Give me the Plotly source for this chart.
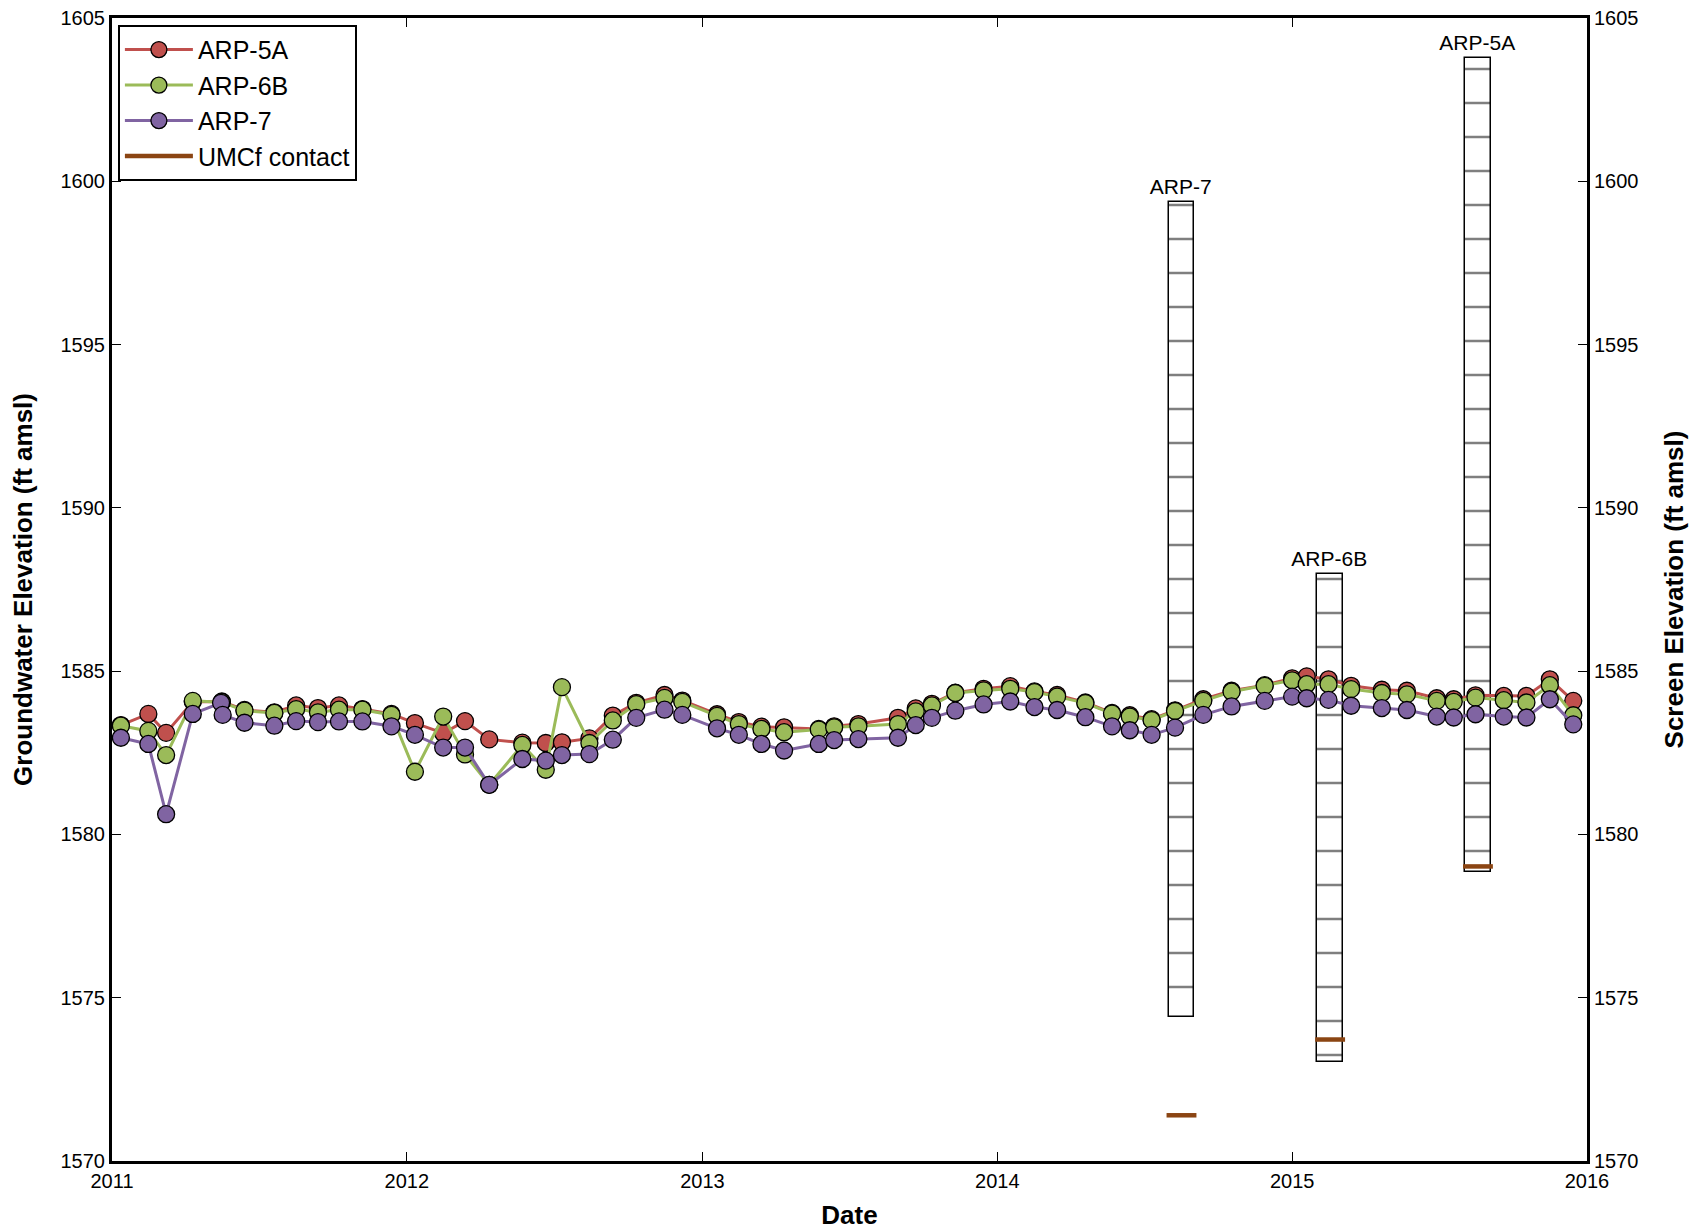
import plotly.graph_objects as go
import pandas as pd

# ---------------- data ----------------
dates = ["2011-01-12", "2011-02-15", "2011-03-09", "2011-04-11", "2011-05-17", "2011-06-14",
         "2011-07-21", "2011-08-17", "2011-09-13", "2011-10-09", "2011-11-07", "2011-12-13",
         "2012-01-11", "2012-02-15", "2012-03-13", "2012-04-12", "2012-05-23", "2012-06-21",
         "2012-07-11", "2012-08-14", "2012-09-12", "2012-10-11", "2012-11-15", "2012-12-07",
         "2013-01-19", "2013-02-15", "2013-03-15", "2013-04-12", "2013-05-25", "2013-06-13",
         "2013-07-13", "2013-08-31", "2013-09-22", "2013-10-12", "2013-11-10", "2013-12-15",
         "2014-01-17", "2014-02-16", "2014-03-16", "2014-04-20", "2014-05-23", "2014-06-14",
         "2014-07-11", "2014-08-09", "2014-09-13", "2014-10-18", "2014-11-28", "2015-01-01",
         "2015-01-19", "2015-02-15", "2015-03-15", "2015-04-22", "2015-05-23", "2015-06-29",
         "2015-07-20", "2015-08-16", "2015-09-20", "2015-10-18", "2015-11-16", "2015-12-15"]

arp5a = [1583.35, 1583.69, 1583.11, 1584.06, 1584.07, 1583.81, 1583.74, 1583.95, 1583.87, 1583.95,
         1583.84, 1583.69, 1583.41, 1583.10, 1583.47, 1582.91, 1582.81, 1582.80, 1582.82, 1582.94,
         1583.64, 1584.03, 1584.27, 1584.10, 1583.68, 1583.44, 1583.30, 1583.28, 1583.23, 1583.31,
         1583.38, 1583.57, 1583.86, 1584.00, 1584.34, 1584.46, 1584.54, 1584.38, 1584.27, 1584.04,
         1583.72, 1583.65, 1583.53, 1583.80, 1584.14, 1584.40, 1584.57, 1584.78, 1584.84, 1584.75,
         1584.55, 1584.43, 1584.40, 1584.17, 1584.14, 1584.26, 1584.24, 1584.24, 1584.75, 1584.09]

arp6b = [1583.33, 1583.17, 1582.43, 1584.09, 1584.05, 1583.79, 1583.72, 1583.84, 1583.74, 1583.82,
         1583.82, 1583.66, 1581.92, 1583.61, 1582.45, 1581.52, 1582.74, 1581.98, 1584.51, 1582.80,
         1583.49, 1583.99, 1584.18, 1584.06, 1583.63, 1583.38, 1583.23, 1583.13, 1583.21, 1583.28,
         1583.31, 1583.38, 1583.77, 1583.95, 1584.33, 1584.41, 1584.46, 1584.36, 1584.22, 1584.02,
         1583.70, 1583.61, 1583.50, 1583.78, 1584.09, 1584.37, 1584.55, 1584.72, 1584.60, 1584.60,
         1584.45, 1584.33, 1584.29, 1584.09, 1584.06, 1584.19, 1584.11, 1584.04, 1584.57, 1583.65]

# ARP-7 has an extra reading in May 2011
dates_arp7 = dates[:4] + ["2011-05-16", "2011-05-18"] + dates[5:]
arp7 = [1582.96, 1582.77, 1580.62, 1583.69, 1584.03, 1583.66, 1583.42, 1583.33, 1583.47, 1583.44,
        1583.46, 1583.46, 1583.31, 1583.05, 1582.66, 1582.66, 1581.52, 1582.31, 1582.26, 1582.43,
        1582.46, 1582.90, 1583.57, 1583.82, 1583.66, 1583.25, 1583.05, 1582.77, 1582.57, 1582.77,
        1582.89, 1582.92, 1582.96, 1583.35, 1583.57, 1583.79, 1583.98, 1584.07, 1583.90, 1583.81,
        1583.59, 1583.31, 1583.19, 1583.05, 1583.27, 1583.66, 1583.92, 1584.09, 1584.22, 1584.17,
        1584.12, 1583.94, 1583.87, 1583.81, 1583.61, 1583.58, 1583.68, 1583.61, 1583.58, 1584.14,
        1583.37]

# well screens
screen_wells = ["ARP-7", "ARP-6B", "ARP-5A"]
screen_dates = ["2014-08-17", "2015-02-17", "2015-08-19"]
screen_top = [1599.37, 1587.98, 1603.78]
screen_bottom = [1574.40, 1573.03, 1578.86]
umcf_contact = [1571.40, 1573.72, 1579.02]

y_ticks = [1570, 1575, 1580, 1585, 1590, 1595, 1600, 1605]

# ---------------- styling ----------------
FONT = "Arial, Liberation Sans, sans-serif"
C_RED, C_GREEN, C_PURPLE, C_BROWN = "#C0504D", "#9BBB59", "#8064A2", "#8B4513"
BAR_DAYS = 31.5
CONTACT_HALF_DAYS = 18.5
PAGE_MARGIN = 8  # default body margin of the html page

fig = go.Figure()

# screens (bars with horizontal hatch)
sd = pd.to_datetime(screen_dates)
fig.add_trace(go.Bar(
    x=sd, y=[t - b for t, b in zip(screen_top, screen_bottom)], base=screen_bottom,
    width=[BAR_DAYS * 86400000] * len(sd),
    marker=dict(color="white", line=dict(color="black", width=1.5),
                pattern=dict(shape="-", size=34, solidity=0.07, fgcolor="black", bgcolor="white")),
    text=screen_wells, textposition="outside", cliponaxis=False, constraintext="none",
    outsidetextfont=dict(family=FONT, size=21, color="black"),
    showlegend=False, hoverinfo="skip", yaxis="y"))

series = [("ARP-5A", dates, arp5a, C_RED), ("ARP-6B", dates, arp6b, C_GREEN),
          ("ARP-7", dates_arp7, arp7, C_PURPLE)]
for name, d, v, c in series:
    fig.add_trace(go.Scatter(
        x=d, y=v, name=name, mode="lines+markers",
        line=dict(color=c, width=3),
        marker=dict(size=17, color=c, line=dict(color="black", width=1.3)),
        yaxis="y"))

# UMCf contact segments (on screen elevation axis)
cx, cy = [], []
for d0, e in zip(sd, umcf_contact):
    half = pd.Timedelta(days=CONTACT_HALF_DAYS)
    cx += [d0 - half, d0 + half, None]
    cy += [e, e, None]
fig.add_trace(go.Scatter(x=cx, y=cy, mode="lines", name="UMCf contact",
                         line=dict(color=C_BROWN, width=4.5), yaxis="y2"))

axis_common = dict(showline=True, linecolor="black", linewidth=3, ticks="inside",
                   ticklen=9, tickwidth=1, tickcolor="black", showgrid=False, zeroline=False,
                   automargin=False, ticklabeloverflow="allow",
                   tickfont=dict(family=FONT, size=20, color="black"))

fig.update_layout(
    width=1697 - PAGE_MARGIN, height=1230 - PAGE_MARGIN,
    margin=dict(l=112 - PAGE_MARGIN, r=110, t=18 - PAGE_MARGIN, b=69),
    paper_bgcolor="white", plot_bgcolor="white",
    barmode="overlay", bargap=0,
    font=dict(family=FONT, color="black"),
    xaxis=dict(range=["2011-01-01", "2016-01-01"], type="date", dtick="M12", tick0="2011-01-01",
               tickformat="%Y", mirror="ticks",
               title=dict(text="<b>Date</b>", font=dict(family=FONT, size=26), standoff=20),
               **axis_common),
    yaxis=dict(range=[1570, 1605], tickvals=y_ticks,
               title=dict(text="<b>Groundwater Elevation (ft amsl)</b>", font=dict(family=FONT, size=26),
                          standoff=22),
               **axis_common),
    yaxis2=dict(range=[1570, 1605], tickvals=y_ticks, overlaying="y", side="right",
                title=dict(text="<b>Screen Elevation (ft amsl)</b>", font=dict(family=FONT, size=26),
                           standoff=28),
                **axis_common),
    legend=dict(x=0.004, y=0.994, xanchor="left", yanchor="top", bgcolor="white",
                bordercolor="black", borderwidth=2, font=dict(family=FONT, size=25, color="black"),
                itemwidth=68, tracegroupgap=0),
)

fig.write_html("out.html")
